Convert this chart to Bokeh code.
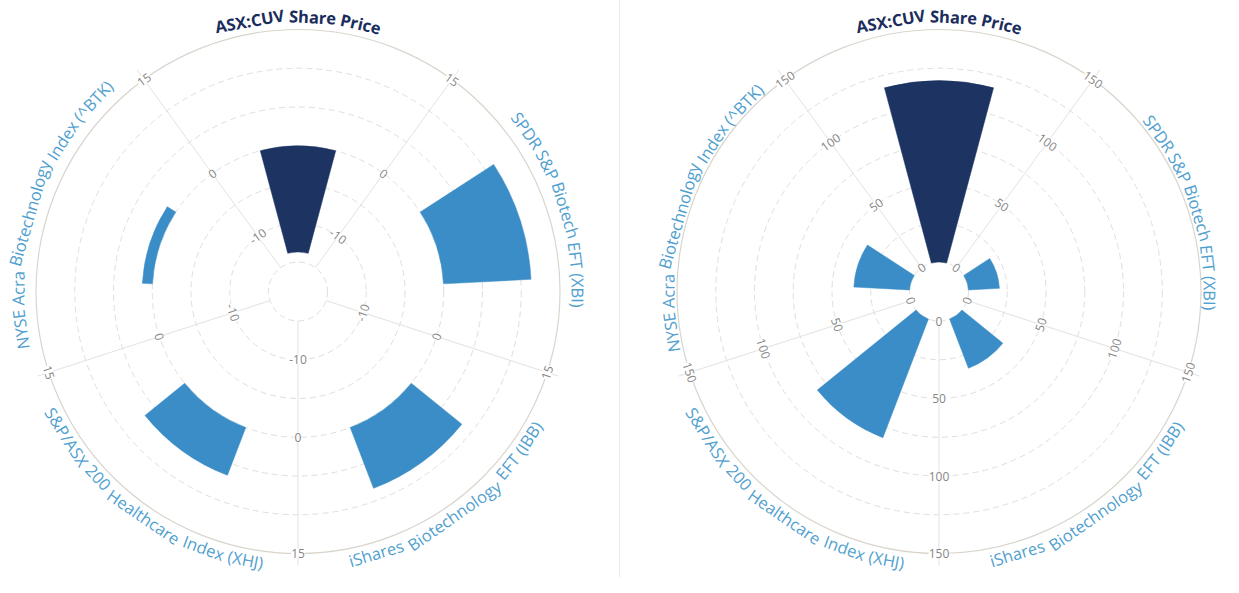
import math
from bokeh.plotting import figure
from bokeh.models import Range1d, ColumnDataSource
from bokeh.core.properties import value
from bokeh.embed import file_html
from bokeh.resources import INLINE

# ---------------- data ----------------
categories = [
    "ASX:CUV Share Price",
    "SPDR S&P Biotech EFT (XBI)",
    "iShares Biotechnology EFT (IBB)",
    "S&P/ASX 200 Healthcare Index (XHJ)",
    "NYSE Acra Biotechnology Index (^BTK)",
]
left_values = [-13.7, 11.3, 8.4, 6.6, 1.3]
right_values = [117, 20, 34, 82, 36]

left_grid = [-15, -10, -5, 0, 5, 10, 15]
left_tick_values = [-10, 0, 15]
left_tick_labels = ["-10", "0", "15"]

right_grid = [0, 25, 50, 75, 100, 125, 150]
right_tick_values = [0, 50, 100, 150]
right_tick_labels = ["0", "50", "100", "150"]

bar_colors = ["#1d3463", "#3a8dc6", "#3a8dc6", "#3a8dc6", "#3a8dc6"]

# ---------------- layout / style ----------------
W, H = 1223, 577
IMG_H = 593
FONT = "Open Sans"
R_IN, R_OUT = 29.5, 262.0
BAR_HALF = 15.0  # degrees
TITLE_COLOR = "#1b2d5c"
LABEL_COLOR = "#519fcf"
TICK_COLOR = "#858585"
GRID_COLOR = "#dedede"
OUTER_COLOR = "#dad5cc"
LABEL_SIZE = 16.5
TITLE_SIZE = 16.5

def Y(y_img):
    return IMG_H - y_img

p = figure(width=W, height=H, x_range=Range1d(8, 8 + W), y_range=Range1d(8, 8 + H),
           output_backend="svg", toolbar_location=None, tools="",
           x_axis_location=None, y_axis_location=None, min_border=0)
p.xgrid.visible = False
p.ygrid.visible = False
p.outline_line_color = None
p.background_fill_color = "white"
p.border_fill_color = "white"

# Open Sans approximate advance widths (1/1000 em)
CW = {' ': 260, 'a': 556, 'b': 613, 'c': 480, 'd': 613, 'e': 561, 'f': 336, 'g': 546, 'h': 614,
      'i': 252, 'j': 252, 'k': 529, 'l': 252, 'm': 931, 'n': 614, 'o': 601, 'p': 613, 'q': 613,
      'r': 408, 's': 477, 't': 353, 'u': 614, 'v': 499, 'w': 774, 'x': 523, 'y': 500, 'z': 469,
      'A': 633, 'B': 647, 'C': 631, 'D': 729, 'E': 556, 'F': 516, 'G': 728, 'H': 738, 'I': 279,
      'J': 267, 'K': 614, 'L': 519, 'M': 903, 'N': 754, 'O': 779, 'P': 602, 'Q': 779, 'R': 618,
      'S': 549, 'T': 553, 'U': 728, 'V': 582, 'W': 890, 'X': 574, 'Y': 559, 'Z': 563,
      '(': 297, ')': 297, '&': 705, '/': 367, '^': 541, ':': 266, '-': 322}
for d in "0123456789":
    CW[d] = 572

def text_width(s, size, bold=False):
    w = sum(CW.get(c, 560) for c in s) / 1000.0 * size
    return w * (1.07 if bold else 1.0)

def curved_label(text, cx, cy, theta_deg, R, size, color, bold=False):
    words = text.split(" ")
    widths = [text_width(w, size, bold) for w in words]
    space = 0.26 * size * (1.07 if bold else 1.0)
    total = sum(widths) + space * (len(words) - 1)
    upper = math.sin(math.radians(theta_deg)) > 0.01
    th = math.radians(theta_deg)
    xs, ys, angs = [], [], []
    s = -total / 2
    for w in widths:
        c = s + w / 2
        s += w + space
        if upper:
            pos = th - c / R
            rot = pos - math.pi / 2
        else:
            pos = th + c / R
            rot = pos + math.pi / 2
        xs.append(cx + R * math.cos(pos))
        ys.append(cy + R * math.sin(pos))
        angs.append(rot)
    p.text(x=xs, y=ys, text=words, angle=angs, text_align="center", text_baseline="middle",
           text_font=value(FONT), text_font_size=value(f"{size}px"), text_color=color,
           text_font_style="bold" if bold else "normal")

def polar_chart(cx_img, cy_img, values, grid, tick_values, tick_labels, r_upper, r_lower):
    cx, cy = cx_img, Y(cy_img)
    vmin, vmax = grid[0], grid[-1]

    def rad(v):
        return R_IN + (v - vmin) / (vmax - vmin) * (R_OUT - R_IN)

    n = len(categories)
    step = 360.0 / n
    cat_angles = [90.0 - step * i for i in range(n)]
    spoke_angles = [a - step / 2 for a in cat_angles]

    # grid circles
    inner_r = [rad(g) for g in grid[:-1]]
    p.circle(x=[cx] * len(inner_r), y=[cy] * len(inner_r), radius=inner_r,
             fill_color=None, line_color=GRID_COLOR, line_width=1, line_dash="6 4")
    p.circle(x=[cx], y=[cy], radius=[rad(grid[-1])], fill_color=None,
             line_color=OUTER_COLOR, line_width=1.2)

    # spokes
    x0, y0, x1, y1 = [], [], [], []
    for a in spoke_angles:
        t = math.radians(a)
        x0.append(cx + R_IN * math.cos(t)); y0.append(cy + R_IN * math.sin(t))
        x1.append(cx + (R_OUT + 12) * math.cos(t)); y1.append(cy + (R_OUT + 12) * math.sin(t))
    p.segment(x0=x0, y0=y0, x1=x1, y1=y1, line_color="#e2e2e2", line_width=1)

    # bars (threshold 0)
    base = 0 if vmin <= 0 <= vmax else vmin
    src = ColumnDataSource(dict(
        x=[cx] * n, y=[cy] * n,
        inner=[rad(min(base, v)) for v in values],
        outer=[rad(max(base, v)) for v in values],
        start=[math.radians(a - BAR_HALF) for a in cat_angles],
        end=[math.radians(a + BAR_HALF) for a in cat_angles],
        color=bar_colors,
    ))
    p.annular_wedge(x="x", y="y", inner_radius="inner", outer_radius="outer",
                    start_angle="start", end_angle="end", fill_color="color",
                    line_color="color", line_width=0.5, source=src)

    # tick labels along spokes
    tx, ty, tt, ta = [], [], [], []
    for a in spoke_angles:
        t = math.radians(a)
        rot = t - math.pi / 2 if math.sin(t) > 0.01 else t + math.pi / 2
        for v, lab in zip(tick_values, tick_labels):
            r = rad(v)
            tx.append(cx + r * math.cos(t)); ty.append(cy + r * math.sin(t))
            tt.append(lab); ta.append(rot)
    p.text(x=tx, y=ty, text=tt, angle=ta, text_align="center", text_baseline="middle",
           text_font=value(FONT), text_font_size=value("12px"), text_color=TICK_COLOR,
           background_fill_color="white", background_fill_alpha=1.0)

    # category labels
    for i, (cat, a) in enumerate(zip(categories, cat_angles)):
        if i == 0:
            curved_label(cat, cx, cy, a, 275, TITLE_SIZE, TITLE_COLOR, bold=True)
        elif math.sin(math.radians(a)) > 0:
            curved_label(cat, cx, cy, a, r_upper, LABEL_SIZE, LABEL_COLOR)
        else:
            curved_label(cat, cx, cy, a, r_lower, LABEL_SIZE, LABEL_COLOR)

# separator between the two charts
p.segment(x0=[627], y0=[Y(593)], x1=[627], y1=[Y(0)], line_color="#e8e8e8", line_width=1)

polar_chart(305.5, 299, left_values, left_grid, left_tick_values, left_tick_labels, 280, 273)
polar_chart(946.5, 299, right_values, right_grid, right_tick_values, right_tick_labels, 271, 273)

open("out.html", "w").write(file_html(p, INLINE))
